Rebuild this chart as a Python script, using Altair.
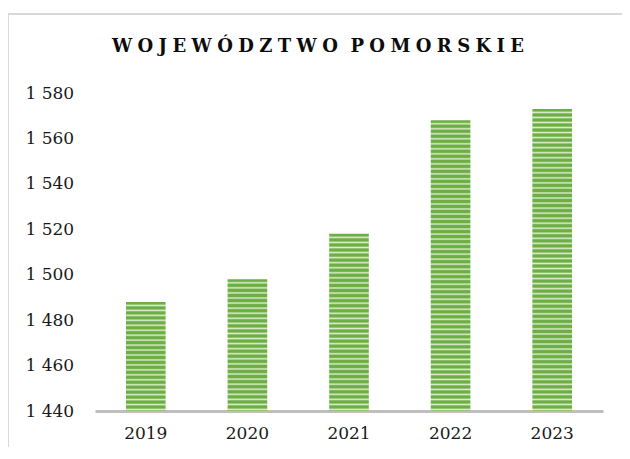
import altair as alt
import pandas as pd

years = ["2019", "2020", "2021", "2022", "2023"]
values = [1488, 1498, 1518, 1568, 1573]
y_ticks = [1440, 1460, 1480, 1500, 1520, 1540, 1560, 1580]
title_text = "WOJEWÓDZTWO POMORSKIE"

df = pd.DataFrame({"year": years, "value": values})

W, H = 508, 318
YMIN, YMAX = 1440, 1580
FONT = "DejaVu Serif"

# letter-spaced title (spacing via thin/hair spaces)
GAP = "\u2009\u200a"
spaced = GAP.join(list(title_text)).replace(GAP + " " + GAP, "\u00a0\u00a0")

DARK = "#6dae45"
LIGHT = "#dcedcd"
PERIOD = 5.0


def stripes(v):
    px = (v - YMIN) * H / (YMAX - YMIN)
    n = max(1, round(px / PERIOD))
    stops = []
    for k in range(n):
        stops.append(alt.GradientStop(offset=k / n, color=DARK))
        stops.append(alt.GradientStop(offset=(k + 0.4) / n, color=DARK))
        stops.append(alt.GradientStop(offset=(k + 0.7) / n, color=LIGHT))
    stops.append(alt.GradientStop(offset=1.0, color=DARK))
    return alt.Gradient(gradient="linear", stops=stops, x1=0, x2=0, y1=0, y2=1)


x_enc = alt.X(
    "year:N",
    sort=years,
    title=None,
    scale=alt.Scale(paddingInner=0.61, paddingOuter=0.305),
    axis=alt.Axis(
        labelAngle=0,
        ticks=False,
        domainColor="#bfbfbf",
        domainWidth=3,
        labelFont=FONT,
        labelFontSize=17,
        labelColor="#1a1a1a",
        labelPadding=14,
    ),
)
y_enc = alt.Y(
    "value:Q",
    title=None,
    scale=alt.Scale(domain=[YMIN, YMAX], nice=False, zero=False, clamp=True),
    axis=alt.Axis(
        values=y_ticks,
        grid=False,
        ticks=False,
        domain=False,
        labelAlign="left",
        labelPadding=70,
        labelFont=FONT,
        labelFontSize=17,
        labelColor="#1a1a1a",
        labelExpr="replace(format(datum.value, ','), ',', ' ')",
    ),
)

frame = alt.Chart(df).mark_rect(fill=None, stroke="#d9d9d9", strokeWidth=2).encode(
    x=alt.value(-87), x2=alt.value(700), y=alt.value(-79), y2=alt.value(500)
)

title = (
    alt.Chart(pd.DataFrame({"t": [spaced]}))
    .mark_text(font=FONT, fontSize=18, fontWeight="bold", color="#0d0d0d", align="center", baseline="middle")
    .encode(text="t:N", x=alt.value(223), y=alt.value(-46))
)

layers = [frame]
for yr, v in zip(years, values):
    layers.append(
        alt.Chart(df)
        .transform_filter(alt.datum.year == yr)
        .mark_bar(fill=stripes(v))
        .encode(x=x_enc, y=y_enc, y2=alt.datum(YMIN))
    )
layers.append(title)

chart = (
    alt.layer(*layers)
    .properties(
        width=W,
        height=H,
        autosize=alt.AutoSizeParams(type="none"),
        padding={"left": 87, "top": 85, "right": 19, "bottom": 36},
    )
    .configure_view(stroke=None)
)

chart.save("out.html", embed_options={"renderer": "svg", "actions": False})
